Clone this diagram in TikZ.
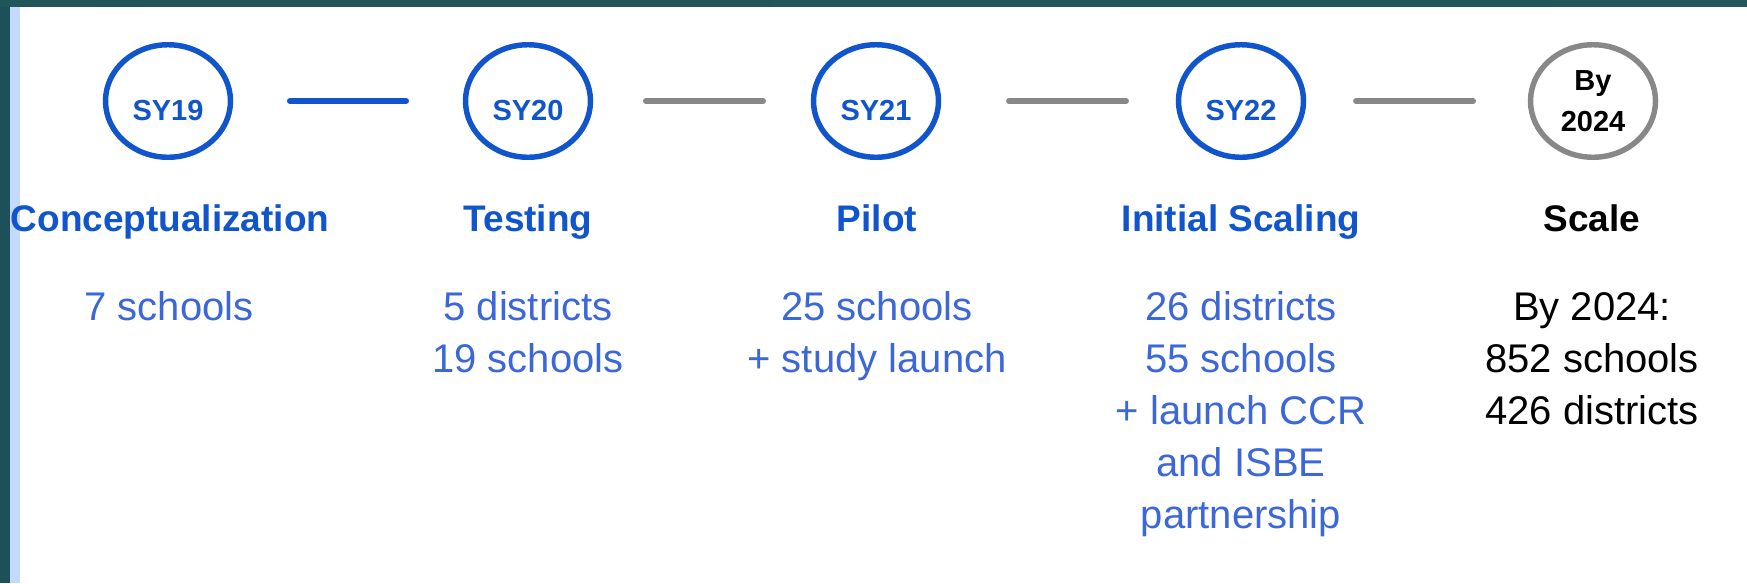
\documentclass[tikz,border=0pt]{standalone}
\usepackage{fontspec}
\setmainfont{Liberation Sans}
\usetikzlibrary{shapes.geometric}

\definecolor{ringblue}{HTML}{1155CC}
\definecolor{textblue}{HTML}{3C67D8}
\definecolor{ringgrey}{HTML}{888888}
\definecolor{frameteal}{HTML}{1D5059}
\definecolor{bandteal}{HTML}{3F7D71}
\definecolor{edgeblue}{HTML}{C4DAFC}

\begin{document}
\begin{tikzpicture}[x=0.75pt,y=-0.75pt,
    ring/.style={ellipse,draw=ringblue,line width=4.1pt,minimum width=93.75pt,
        minimum height=84.4pt,inner sep=0pt,outer sep=0pt,text=ringblue,
        font=\fontsize{21.75}{30.75}\selectfont\bfseries},
    yeartext/.style={text height=28.5pt,text depth=0pt},
    link/.style={line width=4.5pt,line cap=round,draw=ringgrey},
    phase/.style={anchor=base,font=\fontsize{27.75}{33}\selectfont\bfseries,text=ringblue},
    detail/.style={anchor=base,align=center,font=\fontsize{30}{39}\selectfont,text=textblue}]
        \useasboundingbox (0,0) rectangle (1747,583);

        % Frame
        \fill[white] (0,0) rectangle (1747,583);
        \fill[frameteal] (0,0) rectangle (9.5,583);
        \fill[edgeblue] (10,6) rectangle (20,583);
        \shade[left color=frameteal!90!bandteal,middle color=bandteal,right color=frameteal!85!bandteal]
            (0,0) rectangle (1747,6);

        % Year rings
        \foreach \n/\x/\yr in {1/168/SY19,2/528/SY20,3/876/SY21,4/1241/SY22}
           {
                \node[ring,yeartext] (ring\n) at (\x,101) {\yr};
           }
        \node[ring,draw=ringgrey,text=black,align=center] (ring5) at (1593,101) {By\\2024};

        % Links between rings
        \draw[link,draw=ringblue,shorten <=44.6pt,shorten >=44.6pt] (ring1) -- (ring2);
        \draw[link,shorten <=41.6pt,shorten >=37.9pt] (ring2) -- (ring3);
        \draw[link,shorten <=52.9pt,shorten >=39.4pt] (ring3) -- (ring4);
        \draw[link,shorten <=39.4pt,shorten >=43.1pt] (ring4) -- (ring5);

        % Phase names
        \node[phase] (phase1) at (170,231) {Conceptualization};
        \node[phase] (phase2) at (528,231) {Testing};
        \node[phase] (phase3) at (877,231) {Pilot};
        \node[phase] (phase4) at (1241,231) {Initial Scaling};
        \node[phase,text=black] (phase5) at (1592,231) {Scale};

        % Reach of each phase (base = last line)
        \node[detail] (detail1) at (169,320) {7 schools};
        \node[detail] (detail2) at (528,372) {5 districts\\19 schools};
        \node[detail] (detail3) at (877,372) {25 schools\\+ study launch};
        \node[detail] (detail4) at (1241,528) {26 districts\\55 schools\\+ launch CCR\\and ISBE\\partnership};
        \node[detail,text=black] (detail5) at (1592,424) {By 2024:\\852 schools\\426 districts};
\end{tikzpicture}
\end{document}
